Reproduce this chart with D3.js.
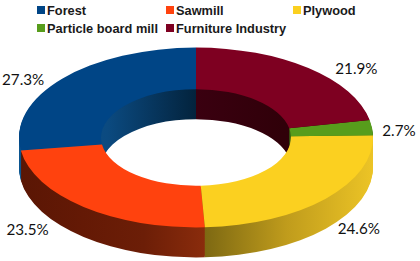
<!DOCTYPE html>
<html>
<head>
<meta charset="utf-8">
<script src="https://cdn.jsdelivr.net/npm/d3@7"></script>
<style>
  html, body { margin: 0; padding: 0; background: #fff; }
  svg { display: block; }
  .legend text { font-family: "Liberation Sans", sans-serif; font-weight: bold; font-size: 12.8px; fill: #1a1a1a; }
  .pct { font-family: Lato, sans-serif; font-size: 15.2px; fill: #111; }
</style>
</head>
<body>
<div id="chart"></div>
<script>
var categories = ["Forest", "Sawmill", "Plywood", "Particle board mill", "Furniture Industry"];
var shares = [27.3, 23.5, 24.6, 2.7, 21.9];
var topColors = ["#004586", "#ff420e", "#fbd020", "#579d1c", "#7e0021"];
// wall shading, left to right across each slice
var wallColors = [
  ["#0a5590", "#0b4a80", "#03233d"],
  ["#5a1604", "#641905", "#6c1e07", "#8a2c0c"],
  ["#7a6612", "#c09c1c", "#ecc426"],
  ["#3a6a12", "#3a6a12", "#3a6a12"],
  ["#3a0010", "#300009", "#2a0007"]
];

var width = 420, height = 261;
var cx = 196, cy = 137.5;
var outer = 177, inner = 95;
var squash = 0.508;
var depth = 30;

// where each percent label sits relative to its slice's outer edge
var labelShift = [[-39, 0], [-56, 22], [33, 29], [27, 2.5], [48, 0]];
var legendCols = [37, 166, 293, 37, 166];
var legendRows = [6, 6, 6, 24, 24];

var svg = d3.select("#chart").append("svg")
  .attr("width", width)
  .attr("height", height);

var defs = svg.append("defs");
wallColors.forEach(function(c, i) {
  var g = defs.append("linearGradient").attr("id", "wall" + i);
  c.forEach(function(col, j) {
    g.append("stop").attr("offset", j / (c.length - 1)).attr("stop-color", col);
  });
});

var pie = d3.pie().sort(null).startAngle(0).endAngle(-2 * Math.PI);
var slices = pie(shares);
var arc = d3.arc().innerRadius(inner).outerRadius(outer);

/* walls: the ring stacked downwards, deepest layer first */
var walls = svg.append("g").attr("class", "walls");
d3.range(depth, 0, -1).forEach(function(d) {
  walls.append("g")
    .attr("transform", `translate(${cx}, ${cy + d}) scale(1, ${squash})`)
    .selectAll("path")
    .data(slices).enter()
    .append("path")
    .attr("d", arc)
    .attr("fill", (s, i) => `url(#wall${i})`);
});

/* top face */
svg.append("g")
  .attr("transform", `translate(${cx}, ${cy}) scale(1, ${squash})`)
  .selectAll("path")
  .data(slices).enter()
  .append("path")
  .attr("d", arc)
  .attr("fill", (s, i) => topColors[i]);

/* percent labels */
var edge = d3.arc().innerRadius(outer).outerRadius(outer);
svg.append("g")
  .selectAll("text")
  .data(slices).enter()
  .append("text")
  .attr("class", "pct")
  .attr("text-anchor", "middle")
  .attr("dominant-baseline", "central")
  .attr("x", (s, i) => cx + edge.centroid(s)[0] + labelShift[i][0])
  .attr("y", (s, i) => cy + edge.centroid(s)[1] * squash + labelShift[i][1])
  .text(s => s.value.toFixed(1) + "%");

/* legend */
var legend = svg.append("g").attr("class", "legend")
  .selectAll("g")
  .data(categories).enter()
  .append("g")
  .attr("transform", (d, i) => `translate(${legendCols[i]}, ${legendRows[i]})`);

legend.append("rect")
  .attr("width", 8)
  .attr("height", 8)
  .attr("fill", (d, i) => topColors[i]);

legend.append("text")
  .attr("x", 10)
  .attr("y", 8.5)
  .text(d => d);
</script>
</body>
</html>
